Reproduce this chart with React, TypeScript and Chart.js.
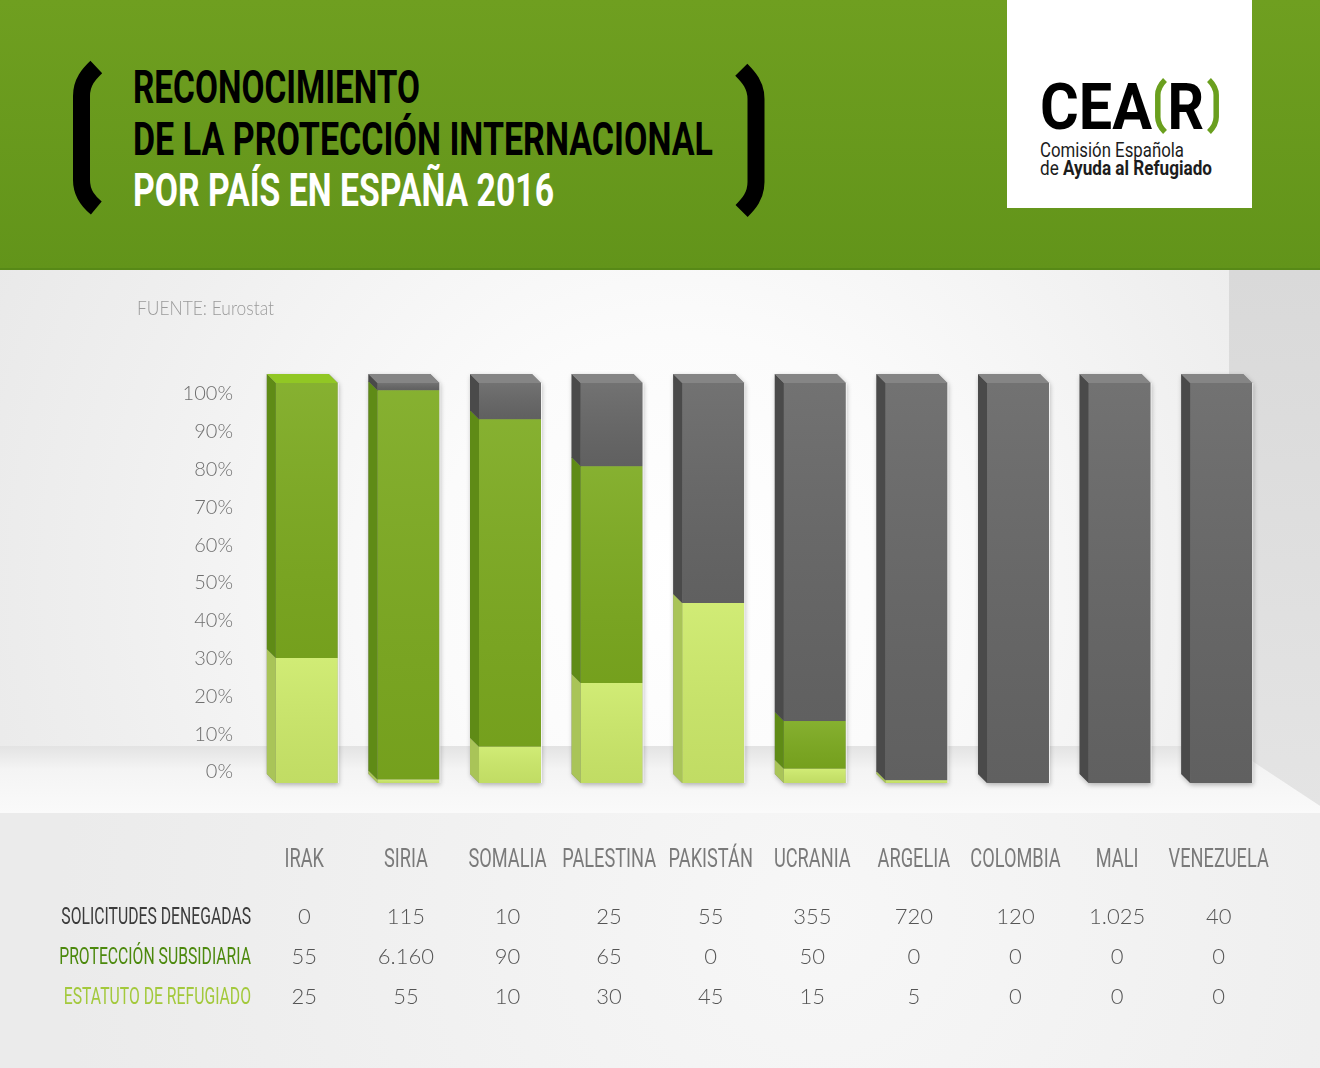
import { useEffect, useRef } from 'react';
import { Chart, registerables } from 'chart.js';

Chart.register(...registerables);

// ---- data ----
const countries = ['IRAK', 'SIRIA', 'SOMALIA', 'PALESTINA', 'PAKISTÁN', 'UCRANIA', 'ARGELIA', 'COLOMBIA', 'MALI', 'VENEZUELA'];
const denegadas = [0, 115, 10, 25, 55, 355, 720, 120, 1025, 40];
const subsidiaria = [55, 6160, 90, 65, 0, 50, 0, 0, 0, 0];
const refugiado = [25, 55, 10, 30, 45, 15, 5, 0, 0, 0];
const percentTicks = [0, 10, 20, 30, 40, 50, 60, 70, 80, 90, 100];
const rowLabels = ['SOLICITUDES DENEGADAS', 'PROTECCIÓN SUBSIDIARIA', 'ESTATUTO DE REFUGIADO'];
const titleLines = ['RECONOCIMIENTO', 'DE LA PROTECCIÓN INTERNACIONAL', 'POR PAÍS EN ESPAÑA 2016'];
const sourceNote = 'FUENTE: Eurostat';

// each country's bar is split as a share of its own total
const totals = countries.map((_, i) => denegadas[i] + subsidiaria[i] + refugiado[i]);
const toShare = (counts: number[]) => counts.map((v, i) => (totals[i] ? (v / totals[i]) * 100 : 0));
const thousands = (n: number) => String(n).replace(/\B(?=(\d{3})+(?!\d))/g, '.');

// ---- layout / style ----
const W = 1320;
const H = 798;
const CANVAS_TOP = 270;
const DEPTH = 9;

// dataset order (bottom to top): refugiado, subsidiaria, denegadas
const palette = [
  { front: '#cdea6a', side: '#a9c458', cap: '#dcf77c', label: '#a3c93c' },
  { front: '#7caa1f', side: '#5f8b16', cap: '#91c724', label: '#4c890d' },
  { front: '#666666', side: '#4a4a4a', cap: '#858585', label: '#3b3b3b' },
];

const tableRows = [
  { label: rowLabels[0], counts: denegadas, color: palette[2].label },
  { label: rowLabels[1], counts: subsidiaria, color: palette[1].label },
  { label: rowLabels[2], counts: refugiado, color: palette[0].label },
];

function condensed(
  ctx: CanvasRenderingContext2D,
  text: string,
  x: number,
  y: number,
  font: string,
  color: string,
  scaleX: number,
  align: CanvasTextAlign,
) {
  ctx.save();
  ctx.font = font;
  ctx.fillStyle = color;
  ctx.textAlign = align;
  ctx.textBaseline = 'alphabetic';
  ctx.translate(x, y);
  ctx.scale(scaleX, 1);
  ctx.fillText(text, 0, 0);
  ctx.restore();
}

type Seg = { d: number; left: number; right: number; top: number; bottom: number };
type Stack = { left: number; right: number; top: number; bottom: number; topD: number; segs: Seg[] };

function stacksOf(chart: any): Stack[] {
  const out: Stack[] = [];
  const n = chart.data.labels.length;
  for (let i = 0; i < n; i++) {
    const segs: Seg[] = [];
    chart.data.datasets.forEach((_: any, d: number) => {
      const el = chart.getDatasetMeta(d).data[i];
      if (!el) return;
      const p = el.getProps(['x', 'y', 'base', 'width'], true);
      const top = Math.min(p.y, p.base);
      const bottom = Math.max(p.y, p.base);
      if (bottom - top < 0.05) return;
      segs.push({ d, left: p.x - p.width / 2, right: p.x + p.width / 2, top, bottom });
    });
    if (!segs.length) continue;
    const topSeg = segs.reduce((a, b) => (b.top < a.top ? b : a));
    out.push({
      left: segs[0].left,
      right: segs[0].right,
      top: topSeg.top,
      bottom: Math.max(...segs.map((s) => s.bottom)),
      topD: topSeg.d,
      segs,
    });
  }
  return out;
}

// room-like backdrop behind the bars and the table
const roomPlugin = {
  id: 'room',
  beforeDraw(chart: any) {
    const ctx: CanvasRenderingContext2D = chart.ctx;
    const floorY = 476;
    const tableY = 543;
    const cornerX = 1229;
    ctx.save();
    const wall = ctx.createRadialGradient(680, 310, 0, 680, 310, 820);
    wall.addColorStop(0, '#ffffff');
    wall.addColorStop(0.3, '#fbfbfb');
    wall.addColorStop(0.7, '#efefef');
    wall.addColorStop(1, '#e7e7e7');
    ctx.fillStyle = wall;
    ctx.fillRect(0, 0, W, floorY);

    const side = ctx.createLinearGradient(0, 0, 0, 540);
    side.addColorStop(0, '#d9d9d9');
    side.addColorStop(1, '#e4e4e4');
    ctx.fillStyle = side;
    ctx.beginPath();
    ctx.moveTo(cornerX, 0);
    ctx.lineTo(W, 0);
    ctx.lineTo(W, 536);
    ctx.lineTo(cornerX, floorY);
    ctx.closePath();
    ctx.fill();

    const floor = ctx.createLinearGradient(0, floorY, 0, tableY);
    floor.addColorStop(0, '#e3e3e3');
    floor.addColorStop(0.35, '#f4f4f4');
    floor.addColorStop(1, '#fafafa');
    ctx.fillStyle = floor;
    ctx.beginPath();
    ctx.moveTo(0, floorY);
    ctx.lineTo(cornerX, floorY);
    ctx.lineTo(W, 536);
    ctx.lineTo(W, tableY);
    ctx.lineTo(0, tableY);
    ctx.closePath();
    ctx.fill();

    const table = ctx.createRadialGradient(820, 650, 0, 820, 650, 760);
    table.addColorStop(0, '#f7f7f7');
    table.addColorStop(1, '#ebebeb');
    ctx.fillStyle = table;
    ctx.fillRect(0, tableY, W, H - tableY);
    ctx.restore();
  },
};

// extruded look: drop shadow, left side faces, top caps
const blockPlugin = {
  id: 'blocks',
  beforeDatasetsDraw(chart: any) {
    const ctx: CanvasRenderingContext2D = chart.ctx;
    ctx.save();
    ctx.shadowColor = 'rgba(0,0,0,0.28)';
    ctx.shadowBlur = 5;
    ctx.shadowOffsetX = 1;
    ctx.shadowOffsetY = 2;
    ctx.fillStyle = '#8a8a8a';
    stacksOf(chart).forEach((s) => {
      ctx.beginPath();
      ctx.moveTo(s.left, s.bottom);
      ctx.lineTo(s.left - DEPTH, s.bottom - DEPTH);
      ctx.lineTo(s.left - DEPTH, s.top - DEPTH);
      ctx.lineTo(s.right - DEPTH, s.top - DEPTH);
      ctx.lineTo(s.right, s.top);
      ctx.lineTo(s.right, s.bottom);
      ctx.closePath();
      ctx.fill();
    });
    ctx.restore();
  },
  afterDatasetsDraw(chart: any) {
    const ctx: CanvasRenderingContext2D = chart.ctx;
    ctx.save();
    stacksOf(chart).forEach((s) => {
      s.segs.forEach((g) => {
        // soft vertical shading on the front face
        const shade = ctx.createLinearGradient(0, g.top, 0, g.bottom);
        shade.addColorStop(0, 'rgba(255,255,255,0.08)');
        shade.addColorStop(1, 'rgba(0,0,0,0.06)');
        ctx.fillStyle = shade;
        ctx.fillRect(g.left, g.top, g.right - g.left, g.bottom - g.top);
        // side face
        ctx.fillStyle = palette[g.d].side;
        ctx.beginPath();
        ctx.moveTo(g.left, g.top);
        ctx.lineTo(g.left - DEPTH, g.top - DEPTH);
        ctx.lineTo(g.left - DEPTH, g.bottom - DEPTH);
        ctx.lineTo(g.left, g.bottom);
        ctx.closePath();
        ctx.fill();
      });
      // top cap
      ctx.fillStyle = palette[s.topD].cap;
      ctx.beginPath();
      ctx.moveTo(s.left, s.top);
      ctx.lineTo(s.left - DEPTH, s.top - DEPTH);
      ctx.lineTo(s.right - DEPTH, s.top - DEPTH);
      ctx.lineTo(s.right, s.top);
      ctx.closePath();
      ctx.fill();
      // thin light edge on the right
      ctx.strokeStyle = 'rgba(255,255,255,0.75)';
      ctx.lineWidth = 1;
      ctx.beginPath();
      ctx.moveTo(s.right + 0.5, s.top);
      ctx.lineTo(s.right + 0.5, s.bottom);
      ctx.stroke();
    });
    ctx.restore();
  },
};

// source note, country names and the counts table under the bars
const tablePlugin = {
  id: 'countsTable',
  afterDraw(chart: any) {
    const ctx: CanvasRenderingContext2D = chart.ctx;
    const xs = chart.scales.x;
    ctx.save();
    condensed(ctx, sourceNote, 137, 45, '300 20px Lato', '#9a9a9a', 0.87, 'left');

    const nameBase = 596.7;
    const rowBase = [654, 694, 734];
    countries.forEach((name, i) => {
      const cx = xs.getPixelForValue(i) - 2.5;
      condensed(ctx, name, cx, nameBase, '400 26px Roboto', '#7a7a7a', 0.7, 'center');
      tableRows.forEach((row, r) => {
        ctx.font = '300 22px Lato';
        ctx.fillStyle = '#555555';
        ctx.textAlign = 'center';
        ctx.textBaseline = 'alphabetic';
        ctx.fillText(thousands(row.counts[i]), cx, rowBase[r]);
      });
    });
    tableRows.forEach((row, r) => {
      condensed(ctx, row.label, 251, rowBase[r], '400 23.5px Roboto', row.color, 0.67, 'right');
    });
    ctx.restore();
  },
};

function Banner() {
  return (
    <svg width={1320} height={270} style={{ position: 'absolute', left: 0, top: 0, display: 'block' }}>
      <defs>
        <linearGradient id="bannerFill" x1="0" y1="0" x2="0" y2="1">
          <stop offset="0" stopColor="#6f9f20" />
          <stop offset="1" stopColor="#62941a" />
        </linearGradient>
      </defs>
      <rect x={0} y={0} width={1320} height={270} fill="url(#bannerFill)" />
      <rect x={0} y={268} width={1320} height={2} fill="#578917" />
      <path
        d="M96.3,67 C89,74 81.5,82 81.5,96 L81.5,180 C81.5,194 89,202 96.3,208"
        fill="none"
        stroke="#000"
        strokeWidth={17}
      />
      <path
        d="M741.3,69.7 C748.5,77 756,85 756,99 L756,182 C756,196 748.5,204 741.6,211"
        fill="none"
        stroke="#000"
        strokeWidth={17}
      />
      <g fontFamily="Roboto" fontWeight={700} fontSize={46}>
        <text x={133} y={103.3} textLength={287} lengthAdjust="spacingAndGlyphs" fill="#000">
          {titleLines[0]}
        </text>
        <text x={133} y={155} textLength={580} lengthAdjust="spacingAndGlyphs" fill="#000">
          {titleLines[1]}
        </text>
        <text x={133} y={206} textLength={421} lengthAdjust="spacingAndGlyphs" fill="#fff">
          {titleLines[2]}
        </text>
      </g>
      <rect x={1007} y={0} width={245} height={208} fill="#fff" />
      <g fontFamily="Roboto" fill="#000">
        <text x={1040} y={129.3} fontWeight={700} fontSize={65} textLength={112} lengthAdjust="spacingAndGlyphs">
          CEA
        </text>
        <text x={1167.5} y={129.3} fontWeight={700} fontSize={65} textLength={36.5} lengthAdjust="spacingAndGlyphs">
          R
        </text>
        <path
          d="M1165,80 C1161,84 1157.8,88 1157.8,95 L1157.8,117 C1157.8,124 1161,128 1165,132"
          fill="none"
          stroke="#6a9f1e"
          strokeWidth={5.5}
        />
        <path
          d="M1209,80 C1213,84 1216.2,88 1216.2,95 L1216.2,117 C1216.2,124 1213,128 1209,132"
          fill="none"
          stroke="#6a9f1e"
          strokeWidth={5.5}
        />
        <text x={1040} y={156.7} fontSize={19.5} textLength={144} lengthAdjust="spacingAndGlyphs" fill="#1c1c1c">
          Comisión Española
        </text>
        <text x={1040} y={175} fontSize={19.5} textLength={172} lengthAdjust="spacingAndGlyphs" fill="#1c1c1c">
          <tspan>de </tspan>
          <tspan fontWeight={700}>Ayuda al Refugiado</tspan>
        </text>
      </g>
    </svg>
  );
}

export default function App() {
  const canvasRef = useRef<HTMLCanvasElement>(null);

  useEffect(() => {
    const canvas = canvasRef.current;
    if (!canvas) return;
    const chart = new Chart(canvas, {
      type: 'bar',
      data: {
        labels: countries,
        datasets: [
          { label: rowLabels[2], data: toShare(refugiado), backgroundColor: palette[0].front },
          { label: rowLabels[1], data: toShare(subsidiaria), backgroundColor: palette[1].front },
          { label: rowLabels[0], data: toShare(denegadas), backgroundColor: palette[2].front },
        ],
      },
      options: {
        animation: false,
        responsive: false,
        devicePixelRatio: 1,
        layout: { padding: { top: 113, right: 48, bottom: 285, left: 0 } },
        datasets: { bar: { categoryPercentage: 1, barPercentage: 0.61, borderWidth: 0 } },
        plugins: { legend: { display: false }, tooltip: { enabled: false } },
        scales: {
          x: { stacked: true, display: false },
          y: { stacked: true, display: false, min: 0, max: 100 },
          pct: {
            type: 'linear',
            position: 'left',
            bounds: 'data',
            min: -2.91,
            max: 102.91,
            grid: { display: false, drawTicks: false },
            border: { display: false },
            afterBuildTicks: (axis: any) => {
              axis.ticks = percentTicks.map((value) => ({ value }));
            },
            afterFit: (axis: any) => {
              axis.width = 256;
            },
            ticks: {
              autoSkip: false,
              padding: 23,
              color: '#6f6f6f',
              font: { family: 'Lato', size: 20, weight: '300' },
              callback: (v: any) => `${v}%`,
            },
          },
        } as any,
      },
      plugins: [roomPlugin, blockPlugin, tablePlugin],
    });
    return () => chart.destroy();
  }, []);

  return (
    <div
      style={{
        position: 'absolute',
        left: 0,
        top: 0,
        width: W,
        height: 1068,
        overflow: 'hidden',
        background: '#efefef',
      }}
    >
      <Banner />
      <canvas
        ref={canvasRef}
        width={W}
        height={H}
        style={{ position: 'absolute', left: 0, top: CANVAS_TOP, width: W, height: H, display: 'block' }}
      />
    </div>
  );
}
